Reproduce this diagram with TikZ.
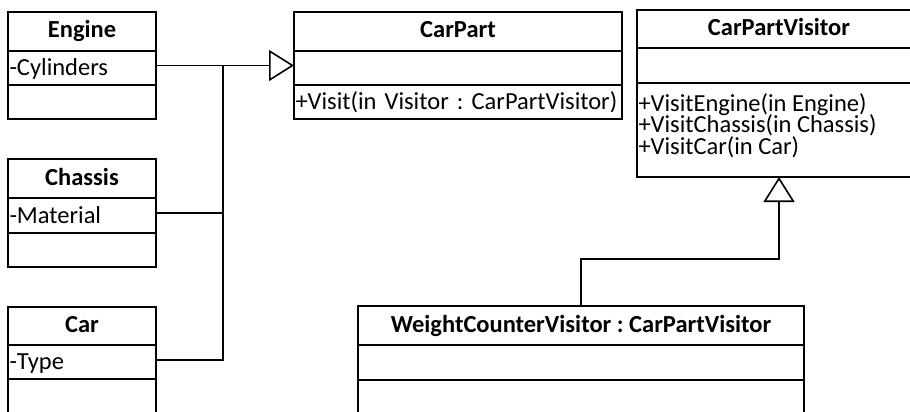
\documentclass[tikz,border=0pt]{standalone}
\usepackage{fontspec}
\setmainfont{Carlito}
\usetikzlibrary{arrows.meta,calc}
\begin{document}
\begin{tikzpicture}[x=1pt,y=-1pt,
  comp/.style={draw, line width=1.6pt, anchor=north west, inner sep=0pt, outer sep=0pt,
    font=\fontsize{24.5}{29}\selectfont\frenchspacing, text height=18pt, text depth=3pt},
  hdr/.style={comp, font=\fontsize{24.5}{29}\selectfont\frenchspacing\bfseries, text depth=5pt},
  attr/.style={comp, align=left, inner xsep=1.5pt},
  frame/.style={draw, line width=1.6pt, anchor=north west, inner sep=0pt, outer sep=0pt},
  txt/.style={inner sep=0pt, outer sep=0pt, font=\fontsize{24.5}{29}\selectfont\frenchspacing},
  conn/.style={line width=1.2pt},
  gen/.style={conn, -{Triangle[open, length=25pt, width=31pt, line width=1.6pt]}}
]
\useasboundingbox (0,0) rectangle (910,412);
\clip (0,0) rectangle (910,412);

% Engine
\node[frame, minimum width=148pt, minimum height=107pt] (engine) at (8,12) {};
\node[hdr, minimum width=148pt, minimum height=39pt] (engineH) at (8,12) {Engine};
\node[attr, text width=145pt, minimum height=34pt] (engineA) at (engineH.south west) {-Cylinders};
\node[comp, minimum width=148pt, minimum height=34pt] (engineM) at (engineA.south west) {};

% Chassis
\node[frame, minimum width=148pt, minimum height=108pt] (chassis) at (8,159) {};
\node[hdr, minimum width=148pt, minimum height=39pt] (chassisH) at (8,159) {Chassis};
\node[attr, text width=145pt, minimum height=35pt] (chassisA) at (chassisH.south west) {-Material};
\node[comp, minimum width=148pt, minimum height=34pt] (chassisM) at (chassisA.south west) {};

% Car
\node[frame, minimum width=148pt, minimum height=106pt] (car) at (8,307) {};
\node[hdr, minimum width=148pt, minimum height=38pt] (carH) at (8,307) {Car};
\node[attr, text width=145pt, minimum height=34pt] (carA) at (carH.south west) {-Type};
\node[comp, minimum width=148pt, minimum height=34pt] (carM) at (carA.south west) {};

% CarPart
\node[frame, minimum width=328pt, minimum height=107pt] (carpart) at (294,12) {};
\node[hdr, minimum width=328pt, minimum height=39pt] (carpartH) at (294,12) {CarPart};
\node[comp, minimum width=328pt, minimum height=34pt] (carpartA) at (carpartH.south west) {};
\node[attr, text width=325pt, minimum height=34pt] (carpartM) at (carpartA.south west) {\mbox{+Visit(in Visitor : CarPartVisitor)}};

% CarPartVisitor
\node[frame, minimum width=284pt, minimum height=167pt] (cpv) at (637,10) {};
\node[hdr, minimum width=284pt, minimum height=38pt] (cpvH) at (637,10) {CarPartVisitor};
\node[comp, minimum width=284pt, minimum height=35pt] (cpvA) at (cpvH.south west) {};
\node[comp, minimum width=284pt, minimum height=94pt] (cpvM) at (cpvA.south west) {};
\node[txt, anchor=base west] (cpvm1) at ($(cpvM.north west)+(1.5,28)$) {+VisitEngine(in Engine)};
\node[txt, anchor=base west] (cpvm2) at ($(cpvM.north west)+(1.5,49.5)$) {+VisitChassis(in Chassis)};
\node[txt, anchor=base west] (cpvm3) at ($(cpvM.north west)+(1.5,71)$) {+VisitCar(in Car)};

% WeightCounterVisitor
\node[frame, minimum width=446pt, minimum height=108pt] (wcv) at (358,306) {};
\node[hdr, minimum width=446pt, minimum height=39pt] (wcvH) at (358,306) {WeightCounterVisitor : CarPartVisitor};
\node[comp, minimum width=446pt, minimum height=35pt] (wcvA) at (wcvH.south west) {};
\node[comp, minimum width=446pt, minimum height=34pt] (wcvM) at (wcvA.south west) {};

% connectors
\coordinate (j) at (223,65.5);
\draw[gen] (engine.east) -- (carpart.west);
\draw[conn] (chassis.east) -- (chassis.east -| j);
\draw[conn] (car.east) -| (j);

\coordinate (bend) at (700,259);
\draw[gen] (wcv.north) |- (bend) -| (cpv.south);
\end{tikzpicture}
\end{document}
